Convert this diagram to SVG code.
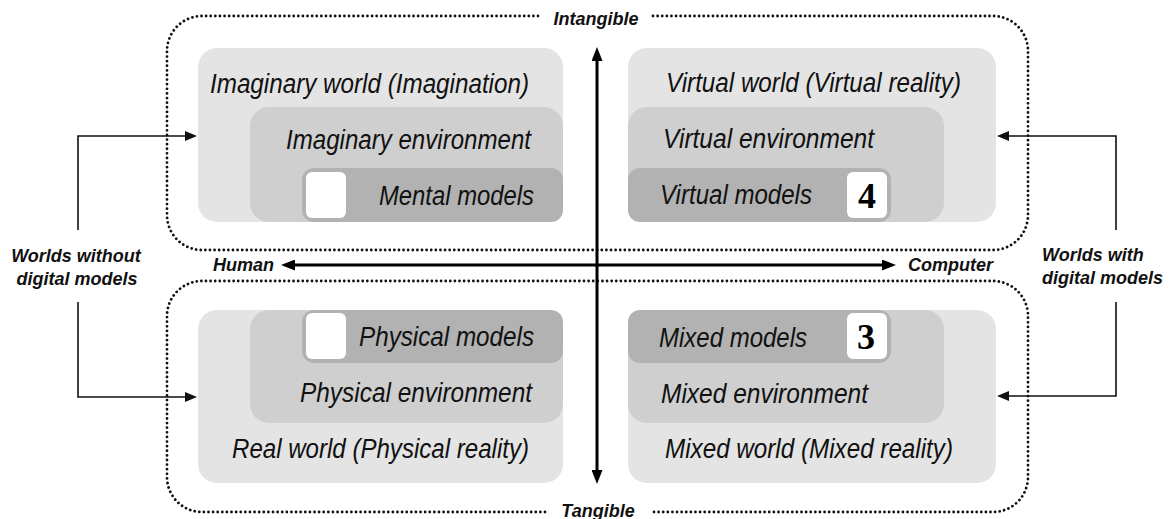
<svg xmlns="http://www.w3.org/2000/svg" width="1172" height="519" viewBox="0 0 1172 519">
<style>
.bg{fill:#ffffff}
.world{fill:#e4e4e4}
.env{fill:#cfcfcf}
.model{fill:#b2b2b2}
.white{fill:#ffffff}
.dot{fill:none;stroke:#111;stroke-width:2.8;stroke-linecap:round;stroke-dasharray:0.01 4.6}
.axis{fill:none;stroke:#000;stroke-width:3}
.bracket{fill:none;stroke:#111;stroke-width:1.6}
.t{font-family:"Liberation Sans Narrow","Liberation Sans",Arial,sans-serif;font-style:italic;font-size:27px;fill:#111}
.lab{font-family:"Liberation Sans",Arial,sans-serif;font-style:italic;font-weight:bold;font-size:18px;fill:#111}
.num{font-family:"Liberation Serif","Times New Roman",serif;font-weight:bold;font-size:36px;fill:#000;text-anchor:middle}
</style>
<defs>
<marker id="axhead" markerUnits="userSpaceOnUse" markerWidth="14" markerHeight="11" refX="4" refY="5.5" orient="auto-start-reverse">
<path d="M0,0 L14,5.5 L0,11 z" fill="#000"/>
</marker>
<marker id="brhead" markerUnits="userSpaceOnUse" markerWidth="12" markerHeight="10" refX="2" refY="5" orient="auto">
<path d="M0,0 L12,5 L0,10 z" fill="#111"/>
</marker>
</defs>
<rect class="bg" x="0" y="0" width="1172" height="519"/>

<g id="region-intangible">
<path class="dot" d="M653 16 H993 A35 35 0 0 1 1028 51 V215 A35 35 0 0 1 993 250 H202 A35 35 0 0 1 167 215 V51 A35 35 0 0 1 202 16 H540"/>
<text class="lab" x="596" y="25" text-anchor="middle">Intangible</text>
</g>
<g id="region-tangible">
<path class="dot" d="M545 512 H202 A35 35 0 0 1 167 477 V316 A35 35 0 0 1 202 281 H993 A35 35 0 0 1 1028 316 V477 A35 35 0 0 1 993 512 H650"/>
<text class="lab" x="598" y="517" text-anchor="middle">Tangible</text>
</g>

<g id="imaginary-world">
<rect class="world" x="198" y="48" width="365" height="174" rx="19"/>
<rect class="env" x="250" y="107" width="313" height="115" rx="19"/>
<rect class="model" x="302" y="168" width="261" height="54" rx="12"/>
<rect class="white" x="306" y="172" width="40" height="46" rx="6"/>
<text class="t" x="210" y="93" textLength="319" lengthAdjust="spacingAndGlyphs">Imaginary world (Imagination)</text>
<text class="t" x="286" y="149" textLength="245" lengthAdjust="spacingAndGlyphs">Imaginary environment</text>
<text class="t" x="379" y="205" textLength="155" lengthAdjust="spacingAndGlyphs">Mental models</text>
</g>

<g id="virtual-world">
<rect class="world" x="628" y="48" width="368" height="174" rx="19"/>
<rect class="env" x="628" y="107" width="316" height="115" rx="19"/>
<rect class="model" x="628" y="168" width="263" height="54" rx="12"/>
<rect class="white" x="847" y="172" width="40" height="46" rx="6"/>
<text class="t" x="666" y="92" textLength="295" lengthAdjust="spacingAndGlyphs">Virtual world (Virtual reality)</text>
<text class="t" x="663" y="148" textLength="211" lengthAdjust="spacingAndGlyphs">Virtual environment</text>
<text class="t" x="660" y="204" textLength="152" lengthAdjust="spacingAndGlyphs">Virtual models</text>
<text class="num" x="867" y="208">4</text>
</g>

<g id="real-world">
<rect class="world" x="198" y="310" width="365" height="173" rx="19"/>
<rect class="env" x="250" y="310" width="313" height="113" rx="19"/>
<rect class="model" x="302" y="310" width="261" height="53" rx="12"/>
<rect class="white" x="306" y="313" width="40" height="46" rx="6"/>
<text class="t" x="359" y="346" textLength="175" lengthAdjust="spacingAndGlyphs">Physical models</text>
<text class="t" x="300" y="402" textLength="232" lengthAdjust="spacingAndGlyphs">Physical environment</text>
<text class="t" x="232" y="458" textLength="297" lengthAdjust="spacingAndGlyphs">Real world (Physical reality)</text>
</g>

<g id="mixed-world">
<rect class="world" x="628" y="310" width="368" height="173" rx="19"/>
<rect class="env" x="628" y="310" width="316" height="113" rx="19"/>
<rect class="model" x="628" y="310" width="263" height="53" rx="12"/>
<rect class="white" x="847" y="313" width="40" height="46" rx="6"/>
<text class="t" x="659" y="347" textLength="148" lengthAdjust="spacingAndGlyphs">Mixed models</text>
<text class="t" x="661" y="403" textLength="207" lengthAdjust="spacingAndGlyphs">Mixed environment</text>
<text class="t" x="665" y="458" textLength="288" lengthAdjust="spacingAndGlyphs">Mixed world (Mixed reality)</text>
<text class="num" x="866" y="349">3</text>
</g>

<g id="label-without">
<text class="lab" x="76" y="262" text-anchor="middle">Worlds without</text>
<text class="lab" x="77" y="285" text-anchor="middle">digital models</text>
</g>
<g id="label-with">
<text class="lab" x="1042" y="261">Worlds with</text>
<text class="lab" x="1042" y="284">digital models</text>
</g>
<g id="label-human"><text class="lab" x="274" y="271" text-anchor="end">Human</text></g>
<g id="label-computer"><text class="lab" x="908" y="271">Computer</text></g>

<g id="connectors">
<line class="axis" x1="597" y1="57" x2="597" y2="474" marker-start="url(#axhead)" marker-end="url(#axhead)"/>
<line class="axis" x1="291" y1="265" x2="886" y2="265" marker-start="url(#axhead)" marker-end="url(#axhead)"/>
<path class="bracket" d="M78 230 V136 H187" marker-end="url(#brhead)"/>
<path class="bracket" d="M78 302 V397 H187" marker-end="url(#brhead)"/>
<path class="bracket" d="M1116 230 V136 H1007" marker-end="url(#brhead)"/>
<path class="bracket" d="M1116 302 V396 H1007" marker-end="url(#brhead)"/>
</g>
</svg>
